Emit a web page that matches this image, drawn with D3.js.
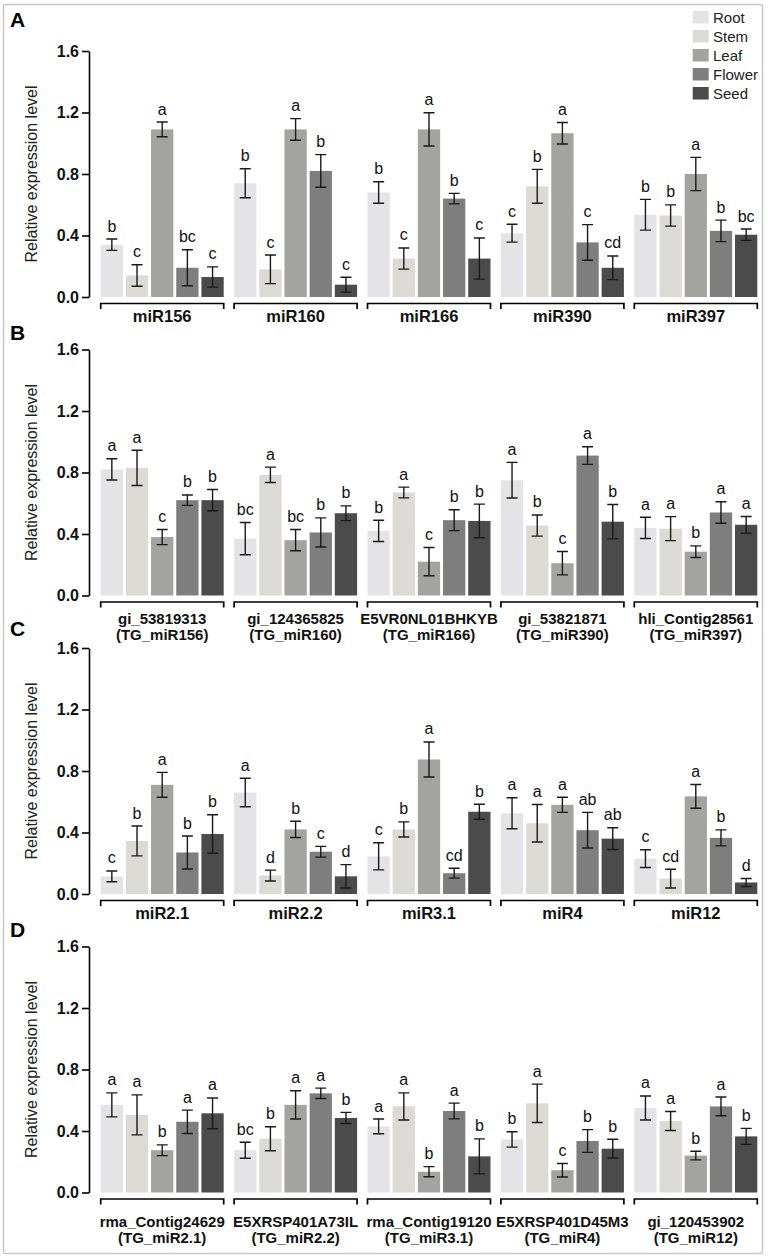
<!DOCTYPE html>
<html><head><meta charset="utf-8">
<script src="https://cdn.jsdelivr.net/npm/d3@7"></script>
<style>
body{margin:0;background:#fff}
text{font-family:Arial,"Liberation Sans",sans-serif}
</style>
</head><body><div id="chart"></div>
<script>
const tissues = ["Root","Stem","Leaf","Flower","Seed"];
const tissueColors = ["#e4e4e6","#dcdad4","#a3a3a0","#7e7e7e","#4b4b4b"];
const yTicks = [0,0.4,0.8,1.2,1.6];

// Panel A
const groupsA = ["miR156","miR160","miR166","miR390","miR397"];
const valuesA = [[0.34,0.14,1.09,0.19,0.13],[0.74,0.18,1.09,0.82,0.08],[0.68,0.25,1.09,0.64,0.25],[0.415,0.72,1.065,0.355,0.19],[0.535,0.53,0.80,0.43,0.405]];
const errorsA = [[0.037,0.07,0.048,0.117,0.066],[0.094,0.093,0.07,0.106,0.048],[0.07,0.069,0.108,0.034,0.134],[0.058,0.11,0.07,0.116,0.077],[0.1,0.069,0.108,0.07,0.037]];
const lettersA = [["b","c","a","bc","c"],["b","c","a","b","c"],["b","c","a","b","c"],["c","b","a","c","cd"],["b","b","a","b","bc"]];

// Panel B
const groupsB = [["gi_53819313","(TG_miR156)"],["gi_124365825","(TG_miR160)"],["E5VR0NL01BHKYB","(TG_miR166)"],["gi_53821871","(TG_miR390)"],["hli_Contig28561","(TG_miR397)"]];
const valuesB = [[0.82,0.83,0.38,0.62,0.62],[0.37,0.785,0.36,0.41,0.535],[0.42,0.67,0.22,0.49,0.485],[0.75,0.455,0.21,0.91,0.48],[0.44,0.435,0.285,0.54,0.46]];
const errorsB = [[0.069,0.115,0.049,0.034,0.069],[0.105,0.05,0.069,0.095,0.048],[0.069,0.035,0.092,0.068,0.109],[0.116,0.069,0.076,0.057,0.112],[0.069,0.078,0.038,0.07,0.054]];
const lettersB = [["a","a","c","b","b"],["bc","a","bc","b","b"],["b","a","c","b","b"],["a","b","c","a","b"],["a","a","b","a","a"]];

// Panel C
const groupsC = ["miR2.1","miR2.2","miR3.1","miR4","miR12"];
const valuesC = [[0.115,0.345,0.71,0.27,0.39],[0.66,0.12,0.42,0.275,0.115],[0.245,0.42,0.875,0.135,0.535],[0.525,0.46,0.58,0.415,0.36],[0.23,0.10,0.635,0.365,0.075]];
const errorsC = [[0.035,0.097,0.081,0.107,0.125],[0.093,0.035,0.053,0.035,0.076],[0.088,0.049,0.114,0.032,0.049],[0.101,0.122,0.049,0.116,0.071],[0.058,0.061,0.077,0.052,0.026]];
const lettersC = [["c","b","a","b","b"],["a","d","b","c","d"],["c","b","a","cd","b"],["a","a","a","ab","ab"],["c","cd","a","b","d"]];

// Panel D
const groupsD = [["rma_Contig24629","(TG_miR2.1)"],["E5XRSP401A73IL","(TG_miR2.2)"],["rma_Contig19120","(TG_miR3.1)"],["E5XRSP401D45M3","(TG_miR4)"],["gi_120453902","(TG_miR12)"]];
const valuesD = [[0.57,0.505,0.275,0.46,0.515],[0.275,0.35,0.57,0.645,0.485],[0.43,0.56,0.135,0.53,0.235],[0.345,0.58,0.145,0.335,0.285],[0.55,0.465,0.24,0.56,0.365]];
const errorsD = [[0.078,0.13,0.035,0.076,0.1],[0.052,0.078,0.092,0.034,0.036],[0.048,0.088,0.033,0.051,0.114],[0.05,0.125,0.044,0.074,0.061],[0.078,0.062,0.028,0.061,0.052]];
const lettersD = [["a","a","b","a","a"],["bc","b","a","a","b"],["a","a","b","a","b"],["b","a","c","b","b"],["a","a","b","a","b"]];

const W = 768, H = 1259;
const svg = d3.select("#chart").append("svg").attr("width",W).attr("height",H);
svg.append("rect").attr("width",W).attr("height",H).attr("fill","#fff");
svg.append("rect").attr("x",3.5).attr("y",4.5).attr("width",759).attr("height",1249)
  .attr("fill","none").attr("stroke","#c8c8c8").attr("stroke-width",1.5).attr("rx",2);

const panels = [
  {id:"A", groups:groupsA, values:valuesA, errors:errorsA, letters:lettersA, top:51, letterY:27, lbl:[18.5]},
  {id:"B", groups:groupsB, values:valuesB, errors:errorsB, letters:lettersB, top:349.5, letterY:340, lbl:[22,38]},
  {id:"C", groups:groupsC, values:valuesC, errors:errorsC, letters:lettersC, top:648, letterY:636, lbl:[18.5]},
  {id:"D", groups:groupsD, values:valuesD, errors:errorsD, letters:lettersD, top:946.5, letterY:937, lbl:[28,44]}
];
const plotH = 246;

panels.forEach(p => {
  const bottom = p.top + plotH;
  const g = svg.append("g");
  const keys = p.groups.map(d => Array.isArray(d) ? d.join("|") : d);
  const x = d3.scaleBand().domain(keys).range([100.7,757.3]).paddingInner(0.078).paddingOuter(0);
  const xi = d3.scaleBand().domain(tissues).range([0,x.bandwidth()]).paddingInner(0.115).paddingOuter(0);
  const y = d3.scaleLinear().domain([0,1.6]).range([bottom,p.top]);

  g.append("text").attr("x",10).attr("y",p.letterY).text(p.id)
    .attr("font-size",21).attr("font-weight","bold").attr("fill","#000");

  const ax = g.append("g").attr("transform","translate(89,0)")
    .call(d3.axisLeft(y).tickValues(yTicks).tickFormat(d3.format(".1f")).tickSize(7).tickSizeOuter(0).tickPadding(3));
  ax.select(".domain").attr("stroke","#000").attr("stroke-width",1.6);
  ax.selectAll(".tick line").attr("stroke","#000").attr("stroke-width",1.6);
  ax.selectAll(".tick text").attr("font-size",16).attr("font-weight","bold").attr("fill","#111")
    .attr("font-family","Arial,'Liberation Sans',sans-serif");

  g.append("text").attr("transform",`translate(33,${(p.top+bottom)/2}) rotate(-90)`)
    .attr("text-anchor","middle").attr("dominant-baseline","middle")
    .attr("font-size",16).attr("fill","#222").text("Relative expression level");

  keys.forEach((k,gi) => {
    const gg = g.append("g").attr("transform",`translate(${x(k)},0)`);
    tissues.forEach((t,ti) => {
      const v = p.values[gi][ti], e = p.errors[gi][ti];
      const bx = xi(t), bw = xi.bandwidth(), cx = bx + bw/2;
      gg.append("rect").attr("x",bx).attr("y",y(v)).attr("width",bw).attr("height",bottom - y(v))
        .attr("fill",tissueColors[ti]);
      const capW = 5.5;
      const path = `M${cx},${y(v-e)}V${y(v+e)}M${cx-capW},${y(v+e)}H${cx+capW}M${cx-capW},${y(v-e)}H${cx+capW}`;
      gg.append("path").attr("d",path).attr("stroke","#1a1a1a").attr("stroke-width",1.4).attr("fill","none");
      gg.append("text").attr("x",cx).attr("y",y(v+e)-7.5).attr("text-anchor","middle")
        .attr("font-size",16).attr("fill","#111").text(p.letters[gi][ti]);
    });
    const b = bottom + 6.5, x0 = 0, x1 = x.bandwidth();
    gg.append("path").attr("d",`M${x0},${b+5.5}V${b}H${x1}V${b+5.5}`)
      .attr("stroke","#000").attr("stroke-width",1.7).attr("fill","none");
    const lines = Array.isArray(p.groups[gi]) ? p.groups[gi] : [p.groups[gi]];
    lines.forEach((ln,li) => {
      gg.append("text").attr("x",x1/2).attr("y",b + p.lbl[li]).attr("text-anchor","middle")
        .attr("font-size", lines.length>1 ? 15 : 16.5).attr("font-weight","bold").attr("fill","#111").text(ln);
    });
  });
});

const leg = svg.append("g");
tissues.forEach((t,i) => {
  leg.append("rect").attr("x",692.7).attr("y",11+19*i).attr("width",16).attr("height",12.5).attr("fill",tissueColors[i]);
  leg.append("text").attr("x",713).attr("y",11+19*i+12).attr("font-size",15).attr("fill","#222").text(t);
});
</script>
</body></html>
